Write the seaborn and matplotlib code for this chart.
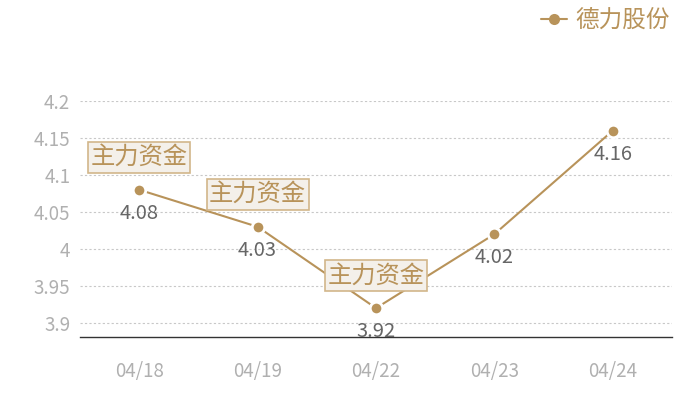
import seaborn as sns
import matplotlib.pyplot as plt
import pandas as pd

dates = ["04/18", "04/19", "04/22", "04/23", "04/24"]
prices = [4.08, 4.03, 3.92, 4.02, 4.16]
series_name = "德力股份"
flag_text = "主力资金"
flag_dates = ["04/18", "04/19", "04/22"]
y_ticks = [3.9, 3.95, 4.0, 4.05, 4.1, 4.15, 4.2]
y_tick_labels = ["3.9", "3.95", "4", "4.05", "4.1", "4.15", "4.2"]

gold = "#b8935a"

sns.set_style("white")
plt.rcParams['font.family'] = ['Noto Sans CJK SC', 'DejaVu Sans']

df = pd.DataFrame({"date": dates, "price": prices})
df["pos"] = range(len(df))

fig = plt.figure(figsize=(7, 4), dpi=100)
ax = fig.add_axes([80 / 700, 63 / 400, 592 / 700, 236 / 400])

sns.lineplot(data=df, x="pos", y="price", ax=ax, color=gold, linewidth=1.5,
             marker="o", markersize=9, markeredgecolor="white",
             markeredgewidth=2, label=series_name, zorder=3)

ax.set_xlim(-0.5, len(dates) - 0.5)
ax.set_ylim(3.881, 4.2)
ax.set_xticks(df["pos"])
ax.set_xticklabels(dates)
ax.set_yticks(y_ticks)
ax.set_yticklabels(y_tick_labels)
ax.set(xlabel="", ylabel="")
ax.tick_params(axis="both", length=0, labelsize=13.5, labelcolor="#b0b0b0")
ax.tick_params(axis="x", pad=17)
ax.tick_params(axis="y", pad=7)

ax.grid(axis="y", linestyle=(0, (2, 2)), color="#c8c8c8", linewidth=0.8)
ax.grid(axis="x", visible=False)
for side in ["top", "right", "left"]:
    ax.spines[side].set_visible(False)
ax.spines["bottom"].set_color("#333333")
ax.spines["bottom"].set_linewidth(1)

# value labels under points
for p, v in zip(df["pos"], df["price"]):
    ax.annotate(f"{v:g}", (p, v), xytext=(0, -17), textcoords="offset points",
                ha="center", va="center", fontsize=14.5, color="#666666",
                zorder=5)

# flag boxes above points
for d in flag_dates:
    row = df[df["date"] == d].iloc[0]
    ax.annotate(flag_text, (row["pos"], row["price"]), xytext=(0, 23.5),
                textcoords="offset points", ha="center", va="center",
                fontsize=17.5, color=gold, zorder=6, annotation_clip=False,
                bbox=dict(boxstyle="square,pad=0.1", fc="#f4f0ea",
                          ec="#d2b68a", lw=1.2))

leg = ax.legend(loc="upper right", bbox_to_anchor=(1.012, 1.43), frameon=False,
                fontsize=17, handlelength=1.1, handletextpad=0.35,
                borderaxespad=0)
for t in leg.get_texts():
    t.set_color(gold)
for h in leg.legend_handles:
    h.set_markeredgecolor(gold)
    h.set_markeredgewidth(0)
    h.set_markersize(8)

fig.savefig("out.png", dpi=100)
